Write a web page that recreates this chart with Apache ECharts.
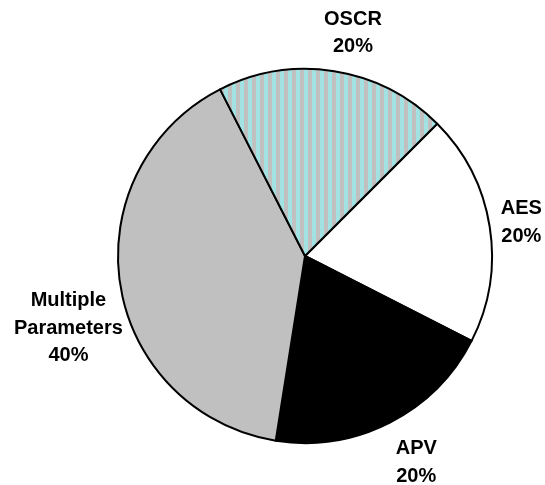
<!DOCTYPE html>
<html>
<head>
<meta charset="utf-8">
<script src="https://cdn.jsdelivr.net/npm/echarts@6/dist/echarts.min.js"></script>
<style>
html,body{margin:0;padding:0;background:#fff;}
#c{width:545px;height:485px;}
</style>
</head>
<body>
<div id="c"></div>
<script>
// Data (clockwise order starting from AES)
const categories = ['AES', 'APV', 'Multiple\nParameters', 'OSCR'];
const values = [20, 20, 40, 20];

// Styles
function stripePattern() {
  const cv = document.createElement('canvas');
  cv.width = 8; cv.height = 8;
  const g = cv.getContext('2d');
  g.fillStyle = '#c0c0c0'; g.fillRect(0, 0, 8, 8);
  g.fillStyle = '#a3e2e2'; g.fillRect(0, 0, 4, 8);
  return { image: cv, repeat: 'repeat' };
}
const colors = ['#ffffff', '#000000', '#c0c0c0', stripePattern()];
// label placement nudges (px), layout only
const nudge = [[-3.5, 1.5], [6, 0], [18.5, 32], [12, 4]];

const CX = 305, CY = 256, R = 187, START = 45, GAP = 11;
const total = values.reduce((a, b) => a + b, 0);

const chart = echarts.init(document.getElementById('c'), null, { renderer: 'canvas' });
chart.setOption({
  backgroundColor: '#ffffff',
  animation: false,
  series: [{
    type: 'pie',
    center: [CX, CY],
    radius: [0, R],
    startAngle: START,
    clockwise: true,
    avoidLabelOverlap: false,
    data: categories.map((n, i) => ({
      name: n, value: values[i],
      itemStyle: { color: colors[i] }
    })),
    itemStyle: { borderColor: '#000', borderWidth: 2 },
    emphasis: { disabled: true },
    label: {
      show: true,
      position: 'outside',
      formatter: p => p.name + '\n' + Math.round(p.percent) + '%',
      fontFamily: 'Liberation Sans, Arial, sans-serif',
      fontWeight: 'bold',
      fontSize: 20,
      lineHeight: 27.5,
      color: '#000',
      align: 'center'
    },
    labelLine: { show: false },
    labelLayout: function (params) {
      const i = params.dataIndex;
      let cum = 0;
      for (let k = 0; k < i; k++) cum += values[k];
      const midFromTop = (90 - START) + (cum + values[i] / 2) / total * 360;
      const a = midFromTop * Math.PI / 180;
      const sx = Math.sin(a), cy = -Math.cos(a);
      const hw = params.labelRect.width / 2, hh = params.labelRect.height / 2;
      const d = R + GAP + Math.abs(hw * sx) + Math.abs(hh * cy);
      return {
        x: CX + d * sx + nudge[i][0],
        y: CY + d * cy + nudge[i][1],
        align: 'center',
        verticalAlign: 'middle'
      };
    }
  }]
});
</script>
</body>
</html>
